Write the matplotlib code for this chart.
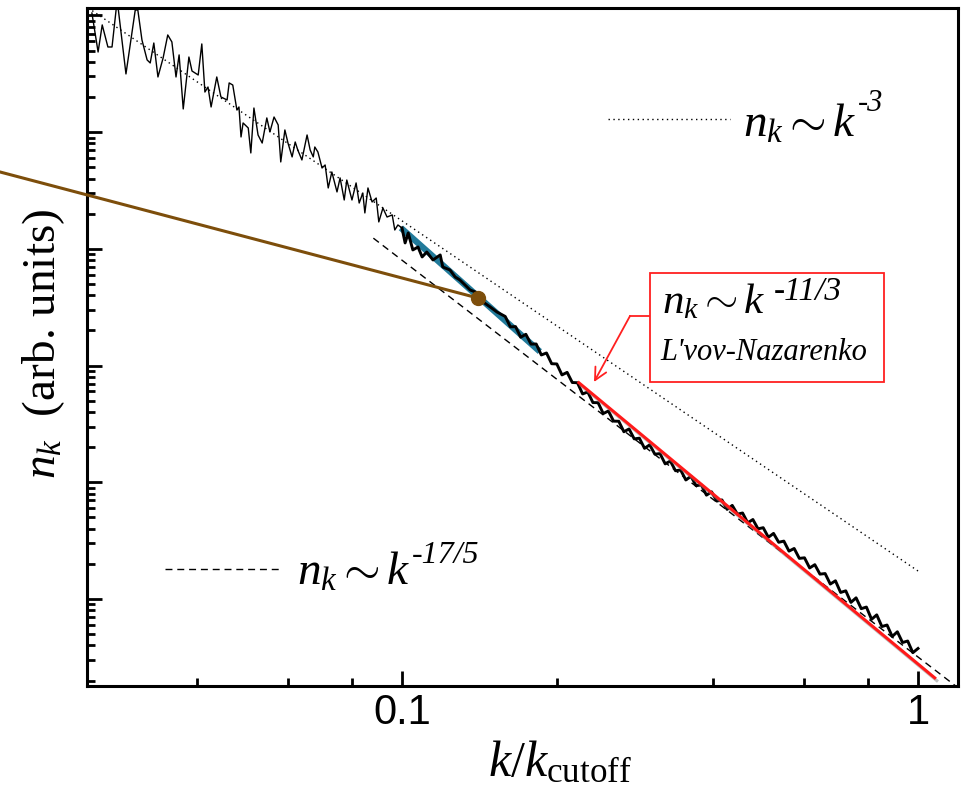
import numpy as np
import matplotlib
matplotlib.use('Agg')
import matplotlib.pyplot as plt
from matplotlib import font_manager
from matplotlib.lines import Line2D
from matplotlib.patches import Rectangle, FancyArrowPatch
from matplotlib.ticker import FixedLocator, FixedFormatter, LogLocator, NullFormatter
import matplotlib.patheffects as pe

plt.rcParams['font.family'] = ['Liberation Serif', 'DejaVu Serif']
plt.rcParams['mathtext.fontset'] = 'custom'
plt.rcParams['mathtext.rm'] = 'Liberation Serif'
plt.rcParams['mathtext.it'] = 'Liberation Serif:italic'
plt.rcParams['mathtext.bf'] = 'Liberation Serif:bold'

names = {f.name for f in font_manager.fontManager.ttflist}
tick_font = 'Liberation Sans Narrow' if 'Liberation Sans Narrow' in names else 'Liberation Sans'

# spectrum n_k (log10 values)
# low-k part, individual wiggles
logk_low = [-1.601, -1.589, -1.581, -1.570, -1.562, -1.552, -1.535, -1.517, -1.512, -1.504,
            -1.494, -1.488, -1.481, -1.473, -1.463, -1.454, -1.446, -1.438, -1.432, -1.424,
            -1.413, -1.407, -1.395, -1.388, -1.382, -1.376, -1.370, -1.359, -1.351, -1.339,
            -1.335, -1.328, -1.320, -1.316, -1.312, -1.308, -1.298, -1.293, -1.287, -1.279,
            -1.271, -1.262, -1.256, -1.248, -1.240, -1.235, -1.227, -1.221, -1.213, -1.207,
            -1.202, -1.194, -1.184, -1.178, -1.172, -1.169, -1.163, -1.155, -1.149, -1.143,
            -1.136, -1.126, -1.120, -1.112, -1.107, -1.097, -1.089, -1.083, -1.076, -1.072,
            -1.066, -1.058, -1.050, -1.045, -1.037, -1.029, -1.019, -1.014, -1.008, -1.000,
            -0.994, -0.988, -0.979, -0.969, -0.961, -0.952, -0.940, -0.926, -0.921, -0.907,
            -0.897, -0.888, -0.874, -0.868, -0.853, -0.843, -0.829, -0.816]
logn_low = [5.021, 4.687, 4.919, 4.730, 4.730, 5.133, 4.499, 5.047, 5.047, 4.790,
            4.619, 4.593, 4.764, 4.473, 4.636, 4.833, 4.773, 4.473, 4.662, 4.199,
            4.644, 4.524, 4.490, 4.756, 4.344, 4.387, 4.216, 4.473, 4.302, 4.276,
            4.422, 4.404, 4.190, 4.216, 3.959, 4.079, 4.036, 3.822, 4.207, 3.976,
            3.907, 4.122, 4.002, 4.130, 4.062, 3.745, 4.019, 3.907, 3.788, 3.916,
            3.847, 3.762, 3.976, 3.847, 3.788, 3.873, 3.830, 3.693, 3.719, 3.522,
            3.659, 3.488, 3.608, 3.419, 3.590, 3.419, 3.565, 3.393, 3.479, 3.308,
            3.522, 3.402, 3.436, 3.231, 3.350, 3.273, 3.291, 3.162, 3.205, 3.179,
            3.051, 3.136, 2.991, 3.016, 2.931, 2.973, 2.905, 2.948, 2.845, 2.819,
            2.759, 2.734, 2.674, 2.648, 2.622, 2.545, 2.502, 2.459]

# high-k part, dense noisy band
logk_high = [-0.80, -0.79, -0.78, -0.77, -0.76, -0.75, -0.74, -0.73, -0.72, -0.71,
             -0.70, -0.69, -0.68, -0.67, -0.66, -0.65, -0.64, -0.63, -0.62, -0.61,
             -0.60, -0.59, -0.58, -0.57, -0.56, -0.55, -0.54, -0.53, -0.52, -0.51,
             -0.50, -0.49, -0.48, -0.47, -0.46, -0.45, -0.44, -0.43, -0.42, -0.41,
             -0.40, -0.39, -0.38, -0.37, -0.36, -0.35, -0.34, -0.33, -0.32, -0.31,
             -0.30, -0.29, -0.28, -0.27, -0.26, -0.25, -0.24, -0.23, -0.22, -0.21,
             -0.20, -0.19, -0.18, -0.17, -0.16, -0.15, -0.14, -0.13, -0.12, -0.11,
             -0.10, -0.09, -0.08, -0.07, -0.06, -0.05, -0.04, -0.03, -0.02, -0.01, 0.00]
logn_high = [2.421, 2.332, 2.334, 2.243, 2.268, 2.184, 2.185, 2.091, 2.108, 2.016,
             2.014, 1.920, 1.942, 1.855, 1.853, 1.757, 1.774, 1.683, 1.682, 1.589,
             1.611, 1.524, 1.523, 1.433, 1.457, 1.372, 1.378, 1.291, 1.321, 1.241,
             1.246, 1.158, 1.182, 1.099, 1.105, 1.020, 1.051, 0.971, 0.978, 0.890,
             0.918, 0.839, 0.849, 0.768, 0.802, 0.727, 0.737, 0.653, 0.681, 0.601,
             0.611, 0.529, 0.562, 0.486, 0.496, 0.410, 0.433, 0.348, 0.353, 0.266,
             0.294, 0.213, 0.218, 0.128, 0.156, 0.056, 0.070, -0.029, 0.010, -0.083,
             -0.069, -0.174, -0.136, -0.236, -0.223, -0.321, -0.281, -0.373, -0.360, -0.460,
             -0.424]

k_data = 10 ** np.array(logk_low + logk_high)
n_data = 10 ** np.array(logn_low + logn_high)

# fitted window (teal) and marked point (brown)
teal_k = [0.0995, 0.185]
teal_n = [10 ** 3.18, 10 ** 2.12]
brown_k = [0.01663, 0.1403]
brown_n = [10 ** 3.659, 10 ** 2.579]

# power laws: exponent, prefactor at k=1, k range
dot_exp, dot_amp, dot_k = -3.0, 10 ** 0.240, [0.0251, 1.0]
dash_exp, dash_amp, dash_k = -17 / 5, 10 ** -0.497, [0.088, 1.25]
red_exp, red_amp, red_k = -11 / 3, 10 ** -0.557, [0.219, 1.083]

fig = plt.figure(figsize=(9.61, 7.98), dpi=100)
ax = fig.add_axes([87 / 961, 1 - 686 / 798, 871 / 961, 678 / 798])


def fx(px):
    return px / 961


def fy(py):
    return 1 - py / 798


ax.plot(teal_k, teal_n, color='#217a9a', lw=4.5, solid_capstyle='butt', zorder=2)
sparse = k_data <= 0.1
ax.plot(k_data[sparse], n_data[sparse], color='black', lw=1.0, zorder=3)
dense = k_data >= 0.099
ax.plot(k_data[dense], n_data[dense], color='black', lw=2.1, zorder=3)

ax.plot(dot_k, dot_amp * np.array(dot_k) ** dot_exp, color='black', lw=1.0,
        linestyle=(0, (1, 2.5)), zorder=4)
ax.plot(dash_k, dash_amp * np.array(dash_k) ** dash_exp, color='black', lw=1.0,
        linestyle=(0, (5, 3.5)), zorder=4)
ax.plot(red_k, red_amp * np.array(red_k) ** red_exp, color='#ff1a1a', lw=2.2,
        solid_capstyle='butt', zorder=5,
        path_effects=[pe.SimpleLineShadow(offset=(1.5, -2), shadow_color='gray', alpha=0.5),
                      pe.Normal()])

ax.plot(brown_k, brown_n, color='#7d4e0b', lw=2.2, clip_on=False, zorder=6)
ax.plot(brown_k[1], brown_n[1], 'o', color='#7d4e0b', ms=10, zorder=7)

ax.set_xscale('log')
ax.set_yscale('log')
ax.set_xlim(10 ** -1.6105, 10 ** 0.0775)
ax.set_ylim(10 ** -0.7455, 10 ** 5.064)

ax.xaxis.set_major_locator(FixedLocator([0.1, 1]))
ax.xaxis.set_major_formatter(FixedFormatter(['0.1', '1']))
ax.xaxis.set_minor_locator(FixedLocator([0.04, 0.06, 0.08, 0.2, 0.4, 0.6, 0.8]))
ax.xaxis.set_minor_formatter(NullFormatter())
ax.yaxis.set_major_locator(LogLocator(base=10, numticks=20))
ax.yaxis.set_minor_locator(LogLocator(base=10, subs=np.arange(2, 10), numticks=20))
ax.yaxis.set_major_formatter(NullFormatter())
ax.yaxis.set_minor_formatter(NullFormatter())

ax.tick_params(which='both', direction='in', top=False, right=False, width=2)
ax.tick_params(which='major', length=11)
ax.tick_params(which='minor', length=6)
ax.tick_params(axis='x', which='major', pad=5, labelsize=30)
for lab in ax.get_xticklabels():
    lab.set_family(tick_font)
for sp in ax.spines.values():
    sp.set_linewidth(2.2)

# axis labels
fig.text(fx(44), fy(344), r'$n_k$  (arb. units)', rotation=90, ha='center', va='center',
         fontsize=34)
fig.text(fx(560), fy(764), r'$k/k_{\mathrm{cutoff}}$', ha='center', va='center', fontsize=36)

renderer = fig.canvas.get_renderer()


def power_text(x, y, exponent, size, exp_size, gap, rise, zorder=9):
    # "n_k ~ k" in math, italic exponent as its own text right after it (rise in px)
    base = fig.text(fx(x), fy(y), r'$n_k \sim k$', fontsize=size, va='baseline',
                    zorder=zorder)
    bb = base.get_window_extent(renderer)
    fig.text((bb.x1 + gap) / 961, fy(y - rise), exponent, fontsize=exp_size,
             style='italic', va='baseline', zorder=zorder)


# legend entries
fig.add_artist(Line2D([fx(608), fx(730)], [fy(119), fy(119)], color='black', lw=1.0,
                      linestyle=(0, (1, 2.5))))
power_text(743, 137, '-3', 34, 22, 1, 26)
fig.add_artist(Line2D([fx(165), fx(283)], [fy(569), fy(569)], color='black', lw=1.0,
                      linestyle=(0, (5, 3.5))))
power_text(297, 585, '-17/5', 34, 23, 1, 22)

# boxed annotation
fig.add_artist(Rectangle((fx(650), fy(382)), fx(884) - fx(650), fy(273) - fy(382),
                         transform=fig.transFigure, facecolor='white', edgecolor='#ff2020',
                         lw=1.3, zorder=8))
power_text(662, 313, '-11/3', 31, 24, 8, 13)
fig.text(fx(660), fy(360), "L'vov-Nazarenko", fontsize=22, style='italic', va='baseline',
         zorder=9)
fig.add_artist(Line2D([fx(650), fx(630)], [fy(316), fy(316)], color='#ff2020', lw=1.3))
fig.add_artist(FancyArrowPatch((fx(630), fy(316)), (fx(594), fy(382)),
                               transform=fig.transFigure, arrowstyle='->',
                               mutation_scale=22, color='#ff2020', lw=1.3,
                               shrinkA=0, shrinkB=0))

fig.savefig('out.png', dpi=100)
